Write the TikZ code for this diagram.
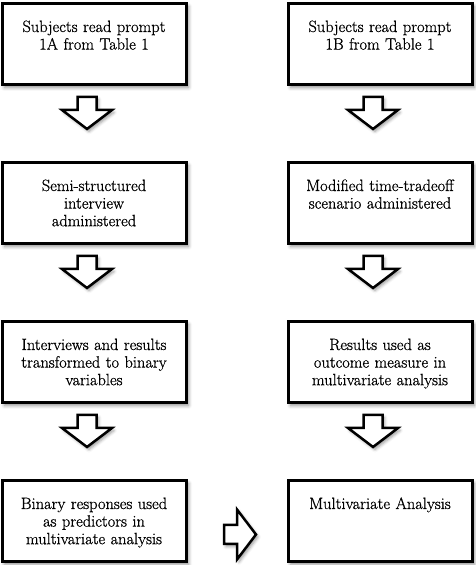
\documentclass[tikz,border=0pt]{standalone}
\usepackage{fontspec}
\setmainfont{Latin Modern Roman}[FakeBold=0.8]
\usetikzlibrary{calc,shadows.blur}

\tikzset{
    stepbox/.style={
        draw,
        line width=3pt,
        fill=white,
        minimum width=184pt,
        minimum height=81pt,
        inner xsep=0pt,
        inner ysep=0pt,
        text width=180pt,
        align=center,
        text height=28.5pt,
        text depth=52.5pt,
        font=\fontsize{16.4}{17.6}\selectfont,
        blur shadow={shadow xshift=2.5pt,shadow yshift=-3pt,shadow blur radius=3.5pt,shadow opacity=45}
    },
    pics/downarr/.style={
        code={
            \draw[
                line width=2.5pt,
                line join=miter,
                fill=white,
                blur shadow={shadow xshift=2pt,shadow yshift=-2.5pt,shadow blur radius=3pt,shadow opacity=40}
            ]
                (-9.5,0) -- (9.5,0) -- (9.5,-13) -- (25,-13)
                -- (0,-32) -- (-25,-13) -- (-9.5,-13) -- cycle;
        }
    }
}

\begin{document}
\begin{tikzpicture}[x=1pt,y=1pt]
            \useasboundingbox (0,0) rectangle (475,565);
            \node[stepbox] (readA) at (94,521) {Subjects read prompt\\1A from Table 1};
            \node[stepbox] (readB) at (380,521) {Subjects read prompt\\1B from Table 1};
            \node[stepbox] (interview) at (94,362) {Semi-structured\\interview\\administered};
            \node[stepbox] (tradeoff) at (380,362) {Modified time-tradeoff\\scenario administered};
            \node[stepbox] (binary) at (94,203) {Interviews and results\\transformed to binary\\variables};
            \node[stepbox] (outcome) at (380,203) {Results used as\\outcome measure in\\multivariate analysis};
            \node[stepbox] (predictors) at (94,44) {Binary responses used\\as predictors in\\multivariate analysis};
            \node[stepbox] (analysis) at (380,44) {Multivariate Analysis};
            \pic at ($(readA.south)+(-7,-11)$) {downarr};
            \pic at ($(readB.south)+(-7,-11)$) {downarr};
            \pic at ($(interview.south)+(-7,-11)$) {downarr};
            \pic at ($(tradeoff.south)+(-7,-11)$) {downarr};
            \pic at ($(binary.south)+(-7,-11)$) {downarr};
            \pic at ($(outcome.south)+(-7,-11)$) {downarr};
            \pic[rotate=90] at ($(predictors.east)+(36.5,-13.5)$) {downarr};
        \end{tikzpicture}
\end{document}
